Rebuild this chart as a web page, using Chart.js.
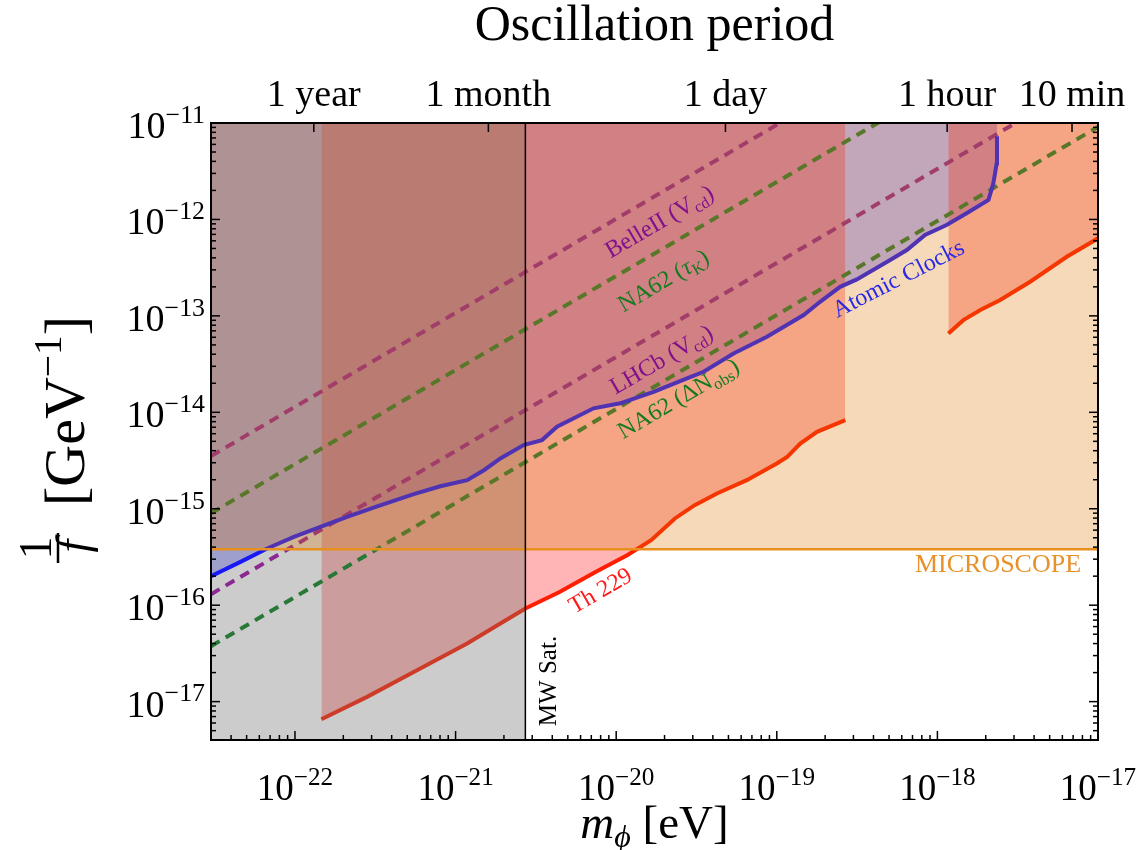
<!DOCTYPE html>
<html>
<head>
<meta charset="utf-8">
<script src="https://cdn.jsdelivr.net/npm/chart.js@4.4.1/dist/chart.umd.min.js"></script>
<style>
  html, body { margin: 0; padding: 0; background: #fff; }
  #wrap { width: 1145px; height: 850px; }
</style>
</head>
<body>
<div id="wrap"><canvas id="grafico" width="1145" height="850"></canvas></div>
<script>
// limites dos eixos (massa em eV, acoplamento 1/f em GeV^-1)
const xMin = 3e-23, xMax = 1e-17;
const yMin = 4e-18, yMax = 1e-11;

// Th 229 - primeiro trecho
const massTh1 = [1.46e-22, 2.81e-22, 5.75e-22, 1.18e-21, 1.90e-21, 2.72e-21, 4.44e-21, 7.43e-21, 1.17e-20,
  1.65e-20, 2.32e-20, 3.08e-20, 4.24e-20, 6.50e-20, 1.00e-19, 1.16e-19, 1.40e-19, 1.78e-19, 2.67e-19];
const coupTh1 = [6.56e-18, 1.12e-17, 2.12e-17, 4.01e-17, 6.46e-17, 9.24e-17, 1.37e-16, 2.21e-16, 3.30e-16,
  4.72e-16, 7.93e-16, 1.09e-15, 1.44e-15, 1.98e-15, 2.95e-15, 3.45e-15, 4.75e-15, 6.28e-15, 8.30e-15];
// Th 229 - segundo trecho
const massTh2 = [1.17e-18, 1.45e-18, 1.85e-18, 2.46e-18, 3.78e-18, 6.39e-18, 1.0e-17];
const coupTh2 = [6.58e-14, 9.03e-14, 1.15e-13, 1.46e-13, 2.26e-13, 4.10e-13, 6.37e-13];

// relógios atômicos
const massClock = [3.0e-23, 4.58e-23, 6.71e-23, 9.84e-23, 1.44e-22, 2.11e-22, 3.25e-22, 5.49e-22, 8.04e-22,
  1.18e-21, 1.50e-21, 1.90e-21, 2.65e-21, 3.45e-21, 4.28e-21, 7.23e-21, 1.06e-20, 1.71e-20, 2.76e-20,
  3.50e-20, 5.38e-20, 8.68e-20, 1.47e-19, 1.86e-19, 2.48e-19, 3.15e-19, 5.08e-19, 6.45e-19, 8.38e-19,
  1.14e-18, 1.52e-18, 2.08e-18, 2.23e-18, 2.34e-18, 2.35e-18];
const coupClock = [2.0e-16, 2.81e-16, 3.87e-16, 5.11e-16, 6.49e-16, 8.24e-16, 1.06e-15, 1.42e-15, 1.71e-15,
  1.98e-15, 2.51e-15, 3.32e-15, 4.57e-15, 5.15e-15, 7.08e-15, 1.10e-14, 1.24e-14, 1.63e-14, 2.25e-14,
  2.63e-14, 4.08e-14, 6.07e-14, 1.02e-13, 1.40e-13, 2.00e-13, 2.39e-13, 3.79e-13, 4.82e-13, 6.89e-13,
  8.75e-13, 1.16e-12, 1.59e-12, 2.37e-12, 3.82e-12, 7.3e-12];

// projeções (retas tracejadas)
const dashMass = [3e-23, 1e-17];
const belleCoup = [3.52e-15, 8.53e-10];
const na62TauCoup = [8.99e-16, 2.18e-10];
const lhcbCoup = [1.30e-16, 3.16e-11];
const na62DeltaCoup = [3.76e-17, 9.12e-12];

// MICROSCOPE
const microMass = [3e-23, 1e-17];
const microCoup = [3.8e-16, 3.8e-16];

// MW Sat.
const mwRegionMass = [3e-23, 2.72e-21];
const mwRegionCoup = [1e-11, 1e-11];
const mwLineMass = [2.72e-21, 2.72e-21];
const mwLineCoup = [4e-18, 1e-11];

// eixo de cima: período de oscilação
const periodMass = [1.31e-22, 1.60e-21, 4.79e-20, 1.15e-18, 6.89e-18];
const periodLabels = ['1 year', '1 month', '1 day', '1 hour', '10 min'];

// expoentes dos rótulos dos eixos
const xTickExp = [-22, -21, -20, -19, -18, -17];
const yTickExp = [-17, -16, -15, -14, -13, -12, -11];

const FONTE = '"Liberation Serif", "Times New Roman", serif';

function pontos(xs, ys) {
    return xs.map((v, i) => ({x: v, y: ys[i]}));
}

// desenha texto com sub/sobrescrito; parts = [[texto, tipo], ...]
function textoRico(ctx, parts, x, y, size, color, angle, align, dy) {
    ctx.save();
    ctx.translate(x, y);
    ctx.rotate(angle * Math.PI / 180);
    ctx.fillStyle = color;
    ctx.textBaseline = 'alphabetic';
    const pecas = parts.map(p => {
        const tipo = p[1] || '';
        const pequeno = tipo.includes('sub') || tipo.includes('sup');
        const fs = pequeno ? size * 0.68 : size;
        const font = (tipo.includes('it') ? 'italic ' : '') + fs + 'px ' + FONTE;
        ctx.font = font;
        let off = 0;
        if (tipo.includes('sub')) off = size * 0.2;
        if (tipo.includes('sup')) off = -size * 0.4;
        return {t: p[0], font, w: ctx.measureText(p[0]).width, off};
    });
    const total = pecas.reduce((s, p) => s + p.w, 0);
    let cx = align === 'right' ? -total : (align === 'left' ? 0 : -total / 2);
    for (const p of pecas) {
        ctx.font = p.font;
        ctx.fillText(p.t, cx, (dy || 0) + p.off);
        cx += p.w;
    }
    ctx.restore();
    return total;
}

function traco(ctx, x1, y1, x2, y2) {
    ctx.beginPath();
    ctx.moveTo(x1, y1);
    ctx.lineTo(x2, y2);
    ctx.stroke();
}

// moldura, marcas, rótulos e anotações
const decoracao = {
    id: 'decoracao',
    afterDraw(chart) {
        const ctx = chart.ctx;
        const {left, right, top, bottom} = chart.chartArea;
        const sx = chart.scales.x, sy = chart.scales.y;
        ctx.save();
        ctx.strokeStyle = '#000';
        ctx.lineWidth = 1.5;

        // marcas do eixo x
        for (let e = -23; e <= -17; e++) {
            for (let k = 1; k <= 9; k++) {
                const v = k * Math.pow(10, e);
                if (v < xMin * 0.999 || v > xMax * 1.001) continue;
                const px = sx.getPixelForValue(v);
                traco(ctx, px, bottom, px, bottom - (k === 1 ? 9 : 5));
            }
        }
        // marcas do eixo y (esquerda e direita)
        for (let e = -18; e <= -11; e++) {
            for (let k = 1; k <= 9; k++) {
                const v = k * Math.pow(10, e);
                if (v < yMin * 0.999 || v > yMax * 1.001) continue;
                const py = sy.getPixelForValue(v);
                const len = k === 1 ? 9 : 5;
                traco(ctx, left, py, left + len, py);
                traco(ctx, right, py, right - len, py);
            }
        }
        // marcas do período (topo)
        periodMass.forEach(m => {
            const px = sx.getPixelForValue(m);
            traco(ctx, px, top, px, top + 9);
        });

        // moldura
        ctx.lineWidth = 2;
        ctx.strokeRect(left, top, right - left, bottom - top);

        // rótulos dos eixos
        xTickExp.forEach(e => {
            const px = sx.getPixelForValue(Math.pow(10, e));
            textoRico(ctx, [['10', ''], ['\u2212' + Math.abs(e), 'sup']], px, 800, 37, '#000', 0, 'center');
        });
        yTickExp.forEach(e => {
            const py = sy.getPixelForValue(Math.pow(10, e));
            textoRico(ctx, [['10', ''], ['\u2212' + Math.abs(e), 'sup']], left - 6, py + 15, 38, '#000', 0, 'right');
        });
        periodMass.forEach((m, i) => {
            const px = sx.getPixelForValue(m);
            textoRico(ctx, [[periodLabels[i], '']], px, 106, 38, '#000', 0, 'center');
        });

        // títulos
        const cxPlot = (left + right) / 2;
        textoRico(ctx, [['Oscillation period', '']], cxPlot, 40, 50, '#000', 0, 'center');
        textoRico(ctx, [['m', 'it'], ['\u03d5', 'it sub'], [' [eV]', '']], cxPlot, 838, 47, '#000', 0, 'center');

        // título do eixo y: fração 1/f seguida de [GeV^-1] (texto girado)
        ctx.save();
        ctx.translate(84, 548);
        ctx.rotate(-Math.PI / 2);
        ctx.fillStyle = '#000';
        ctx.strokeStyle = '#000';
        ctx.lineWidth = 2.5;
        ctx.textAlign = 'center';
        ctx.font = '46px ' + FONTE;
        ctx.fillText('1', 0, -33);
        ctx.font = 'italic 46px ' + FONTE;
        ctx.fillText('f', 2, 4);
        traco(ctx, -15, -26, 15, -26);
        ctx.restore();
        textoRico(ctx, [['[GeV', ''], ['\u22121', 'sup'], [']', '']], 84, 506, 58, '#000', -90, 'left');

        // anotações
        const ang = -30.3;
        textoRico(ctx, [['BelleII (V', ''], ['cd', 'sub'], [')', '']], 659, 221, 24, '#80108c', ang, 'center', 8);
        textoRico(ctx, [['NA62 (', ''], ['\u03c4', 'it'], ['K', 'sub'], [')', '']], 663, 280, 24, '#157a20', ang, 'center', 8);
        textoRico(ctx, [['LHCb (V', ''], ['cd', 'sub'], [')', '']], 661, 359, 24, '#80108c', ang, 'center', 8);
        textoRico(ctx, [['NA62 (\u0394N', ''], ['obs', 'sub'], [')', '']], 678, 398, 24, '#157a20', ang, 'center', 8);
        textoRico(ctx, [['Atomic Clocks', '']], 898, 278, 24, '#2a2ae6', -27, 'center', 8);
        textoRico(ctx, [['Th 229', '']], 600, 590, 24, '#ff1a1a', -30, 'center', 8);
        textoRico(ctx, [['MICROSCOPE', '']], 998, 564, 26, '#e8902a', 0, 'center', 8);
        textoRico(ctx, [['MW Sat.', '']], 548, 681, 25, '#000', -90, 'center', 8);

        ctx.restore();
    }
};

function tracejada(label, ys, cor) {
    return {
        label, data: pontos(dashMass, ys), borderColor: cor, borderWidth: 4,
        borderDash: [10, 7], fill: false, order: 7, clip: 0
    };
}

new Chart(document.getElementById('grafico'), {
    type: 'line',
    data: {
        datasets: [
            { label: 'Atomic Clocks (area)', data: pontos(massClock, coupClock), borderWidth: 0, borderColor: 'transparent',
              fill: 'end', backgroundColor: 'rgba(0,0,255,0.28)', order: 10, clip: 0 },
            { label: 'Th 229', data: pontos(massTh1, coupTh1), borderColor: 'rgb(255,30,0)', borderWidth: 4,
              fill: 'end', backgroundColor: 'rgba(255,0,0,0.29)', order: 9, clip: 0 },
            { label: 'Th 229 (b)', data: pontos(massTh2, coupTh2), borderColor: 'rgb(255,30,0)', borderWidth: 4,
              fill: 'end', backgroundColor: 'rgba(255,0,0,0.29)', order: 9, clip: 0 },
            { label: 'MW Sat. (area)', data: pontos(mwRegionMass, mwRegionCoup), borderWidth: 0, borderColor: 'transparent',
              fill: 'start', backgroundColor: 'rgba(113,113,113,0.36)', order: 8, clip: 0 },
            tracejada('BelleII', belleCoup, 'rgb(140,40,145)'),
            tracejada('NA62 tau', na62TauCoup, 'rgb(40,120,55)'),
            tracejada('LHCb', lhcbCoup, 'rgb(140,40,145)'),
            tracejada('NA62 dN', na62DeltaCoup, 'rgb(40,120,55)'),
            { label: 'Atomic Clocks', data: pontos(massClock, coupClock), borderColor: 'rgb(25,25,245)', borderWidth: 4,
              fill: false, order: 6, clip: 0 },
            { label: 'MICROSCOPE', data: pontos(microMass, microCoup), borderColor: '#e8901e', borderWidth: 2.5,
              fill: 'end', backgroundColor: 'rgba(219,119,5,0.28)', order: 5, clip: 0 },
            { label: 'MW Sat.', data: pontos(mwLineMass, mwLineCoup), borderColor: '#000', borderWidth: 1.5,
              fill: false, order: 4, clip: 0 }
        ]
    },
    options: {
        responsive: false,
        animation: false,
        events: [],
        layout: { autoPadding: false, padding: { left: 211, right: 47, top: 123, bottom: 110 } },
        elements: { point: { radius: 0 }, line: { tension: 0 } },
        plugins: { legend: { display: false }, tooltip: { enabled: false }, title: { display: false } },
        scales: {
            x: { type: 'logarithmic', min: xMin, max: xMax,
                 grid: { display: false, drawTicks: false }, ticks: { display: false }, border: { display: false } },
            y: { type: 'logarithmic', min: yMin, max: yMax,
                 grid: { display: false, drawTicks: false }, ticks: { display: false }, border: { display: false } }
        }
    },
    plugins: [decoracao]
});
</script>
</body>
</html>
